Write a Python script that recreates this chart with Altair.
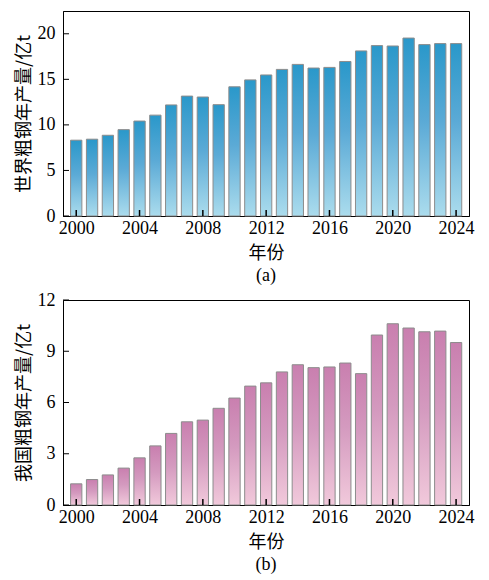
import altair as alt
import pandas as pd

years = list(range(2000, 2025))
world = [8.32, 8.43, 8.86, 9.48, 10.42, 11.07, 12.19, 13.16, 13.06, 12.22,
         14.18, 14.94, 15.48, 16.09, 16.64, 16.24, 16.31, 16.96, 18.12, 18.70,
         18.66, 19.53, 18.81, 18.92, 18.92]
china = [1.24, 1.49, 1.76, 2.16, 2.76, 3.46, 4.19, 4.87, 4.97, 5.66,
         6.26, 6.96, 7.15, 7.79, 8.21, 8.04, 8.08, 8.31, 7.69, 9.95,
         10.61, 10.36, 10.14, 10.18, 9.51]
x_ticks = [2000, 2004, 2008, 2012, 2016, 2020, 2024]
world_ticks = [0, 5, 10, 15, 20]
china_ticks = [0, 3, 6, 9, 12]

W, H = 406, 205
SERIF = "Liberation Serif, Times New Roman, serif"
CJK = "Noto Sans CJK SC"


def panel(values, yticks, ymax, ytitle, caption, c_top, c_mid, c_bot):
    df = pd.DataFrame({"year": years, "v": values})
    xs = alt.Scale(domain=[1999.48, 2024.5], nice=False, zero=False)
    ys = alt.Scale(domain=[0, ymax], nice=False)
    xax = alt.Axis(values=x_ticks, format="d", labelFlush=False,
                   labelFont=SERIF, labelFontSize=18)
    yax = alt.Axis(values=yticks, format="d", labelFont=SERIF, labelFontSize=18)
    grad = alt.Gradient(
        gradient="linear",
        stops=[alt.GradientStop(color=c_top, offset=0),
               alt.GradientStop(color=c_mid, offset=0.45),
               alt.GradientStop(color=c_bot, offset=1)],
        x1=0, x2=0, y1=0, y2=1,
    )
    bars = alt.Chart(df).mark_bar(
        width=11.3, fill=grad, stroke="#8c8c8c", strokeWidth=1
    ).encode(
        x=alt.X("year:Q", scale=xs, title="年份", axis=xax),
        y=alt.Y("v:Q", scale=ys, title=ytitle, axis=yax),
    )
    yt = alt.Chart(pd.DataFrame({"v": yticks})).mark_rule(
        color="black", strokeWidth=1
    ).encode(
        y=alt.Y("v:Q", scale=ys, title=ytitle, axis=yax),
        x=alt.value(0), x2=alt.value(6),
    )
    xt = alt.Chart(pd.DataFrame({"year": x_ticks})).mark_rule(
        color="black", strokeWidth=1.5
    ).encode(
        x=alt.X("year:Q", scale=xs, title="年份", axis=xax),
        y=alt.value(H), y2=alt.value(H - 6),
    )
    return alt.layer(bars, yt, xt).properties(
        width=W, height=H,
        title=alt.TitleParams(caption, orient="bottom", font=SERIF,
                              fontSize=18, fontWeight="normal", color="black",
                              frame="group", anchor="middle", offset=5),
    )


top = panel(world, world_ticks, 22.5, "世界粗钢年产量/亿t", "(a)",
            "#2A98CA", "#5BAAD6", "#ABDCED")
bottom = panel(china, china_ticks, 12, "我国粗钢年产量/亿t", "(b)",
               "#C97FAF", "#D49ABF", "#F1C9DB")

chart = alt.vconcat(top, bottom, spacing=4).properties(
    padding={"left": 6, "top": 2, "right": 0, "bottom": 0}
).configure_view(
    stroke="black", strokeWidth=1
).configure_axis(
    grid=False, ticks=False, domainColor="black", domainWidth=1,
    labelFont=SERIF, labelFontSize=18, labelColor="black",
    titleFont=CJK, titleFontSize=18, titleFontWeight="normal", titleColor="black",
).configure_axisY(
    labelPadding=8, titlePadding=4, titleFontSize=18,
).configure_axisX(
    labelPadding=3, titlePadding=7,
)

chart.save("out.html", embed_options={"renderer": "svg", "actions": False})
